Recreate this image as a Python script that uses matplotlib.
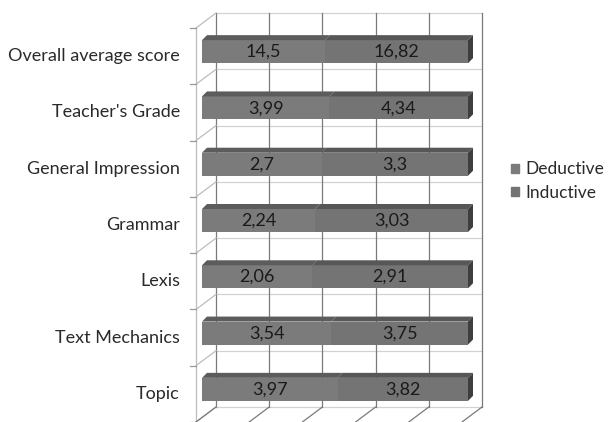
"""Deductive vs inductive scores, 100% stacked bars with a fake 3D wall."""

import matplotlib

matplotlib.use("Agg")

import matplotlib.pyplot as plt
from matplotlib.patches import Polygon

categories = [
    "Overall average score",
    "Teacher's Grade",
    "General Impression",
    "Grammar",
    "Lexis",
    "Text Mechanics",
    "Topic",
]
deductive = [14.5, 3.99, 2.7, 2.24, 2.06, 3.54, 3.97]
inductive = [16.82, 4.34, 3.3, 3.03, 2.91, 3.75, 3.82]
series_names = ["Deductive", "Inductive"]
x_ticks = [0, 20, 40, 60, 80, 100]

FIG_W, FIG_H = 609, 422
WALL_L, WALL_T, WALL_R, WALL_B = 216, 13, 482, 407  # back wall, pixels
DEPTH = (-20, 15)        # back wall -> front plane
BAR_FRONT = (-14, 10.5)  # back wall -> bar front face
BAR_DEPTH = 5            # bar thickness in pixels
BAR_H = 23

SEG_COLORS = ["#7b7b7b", "#747474"]
TOP_COLORS = ["#5c5c5c", "#575757"]
SIDE_COLOR = "#3e3e3e"
TEXT_COLOR = "#2a2a2a"

plt.rcParams["font.family"] = ["Lato", "DejaVu Sans"]

fig = plt.figure(figsize=(FIG_W / 100, FIG_H / 100), dpi=100)
ax = fig.add_axes([
    WALL_L / FIG_W,
    (FIG_H - WALL_B) / FIG_H,
    (WALL_R - WALL_L) / FIG_W,
    (WALL_B - WALL_T) / FIG_H,
])
n = len(categories)
ax.set_xlim(0, 100)
ax.set_ylim(n, 0)
ax.axis("off")

sx = 100 / (WALL_R - WALL_L)
sy = n / (WALL_B - WALL_T)


def shift(x, y, dx_px, dy_px):
    return x + dx_px * sx, y + dy_px * sy


# back wall grid
for k in range(n + 1):
    ax.plot([0, 100], [k, k], color="#d2d2d2", lw=0.9, clip_on=False, zorder=1)
for t in x_ticks:
    ax.plot([t, t], [0, n], color="#7a7a7a", lw=0.9, clip_on=False, zorder=1)

# left wall
fx0, fy0 = shift(0, 0, *DEPTH)
fx1, fy1 = shift(0, n, *DEPTH)
ax.plot([fx0, fx1], [fy0, fy1], color="#bdbdbd", lw=0.9, clip_on=False, zorder=1)
for k in range(n + 1):
    px, py = shift(0, k, *DEPTH)
    ax.plot([0, px], [k, py], color="#bdbdbd", lw=0.9, clip_on=False, zorder=1)
    ax.plot([px, px - 6 * sx], [py, py], color="#9a9a9a", lw=0.9, clip_on=False, zorder=1)

# floor
for t in x_ticks:
    px, py = shift(t, n, *DEPTH)
    ax.plot([t, px], [n, py], color="#7a7a7a", lw=0.9, clip_on=False, zorder=1)

# bars
for i, (d, ind) in enumerate(zip(deductive, inductive)):
    total = d + ind
    widths = [d / total * 100, ind / total * 100]
    left, yc = shift(0, i + 0.5, *BAR_FRONT)
    h = BAR_H * sy
    y_top = yc - h / 2
    y_bot = yc + h / 2
    dx, dy = BAR_DEPTH * sx, BAR_DEPTH * sy
    start = left
    for j, (w, v) in enumerate(zip(widths, (d, ind))):
        ax.barh(yc, w, left=start, height=h, color=SEG_COLORS[j], lw=0, zorder=3,
                clip_on=False)
        ax.add_patch(Polygon(
            [(start, y_top), (start + w, y_top), (start + w + dx, y_top - dy),
             (start + dx, y_top - dy)],
            closed=True, facecolor=TOP_COLORS[j], edgecolor="none", zorder=3,
            clip_on=False))
        ax.text(start + w / 2, yc + 0.3 * sy, f"{v:g}".replace(".", ","),
                ha="center", va="center", fontsize=13, color="#1a1a1a", zorder=4)
        start += w
    ax.add_patch(Polygon(
        [(start, y_top), (start, y_bot), (start + dx, y_bot - dy), (start + dx, y_top - dy)],
        closed=True, facecolor=SIDE_COLOR, edgecolor="none", zorder=3, clip_on=False))

    lx, ly = shift(0, i + 0.5, DEPTH[0] - 16, DEPTH[1])
    ax.text(lx, ly, categories[i], ha="right", va="center", fontsize=13,
            color=TEXT_COLOR)

handles = [plt.Rectangle((0, 0), 1, 1, color=c) for c in SEG_COLORS]
fig.legend(
    handles,
    series_names,
    loc="center left",
    bbox_to_anchor=(511 / FIG_W, 1 - 181 / FIG_H),
    frameon=False,
    borderpad=0,
    borderaxespad=0,
    fontsize=12.5,
    handlelength=0.45,
    handleheight=0.45,
    handletextpad=0.4,
    labelspacing=0.42,
    labelcolor=TEXT_COLOR,
)

fig.savefig("out.png", dpi=100, facecolor="white")
